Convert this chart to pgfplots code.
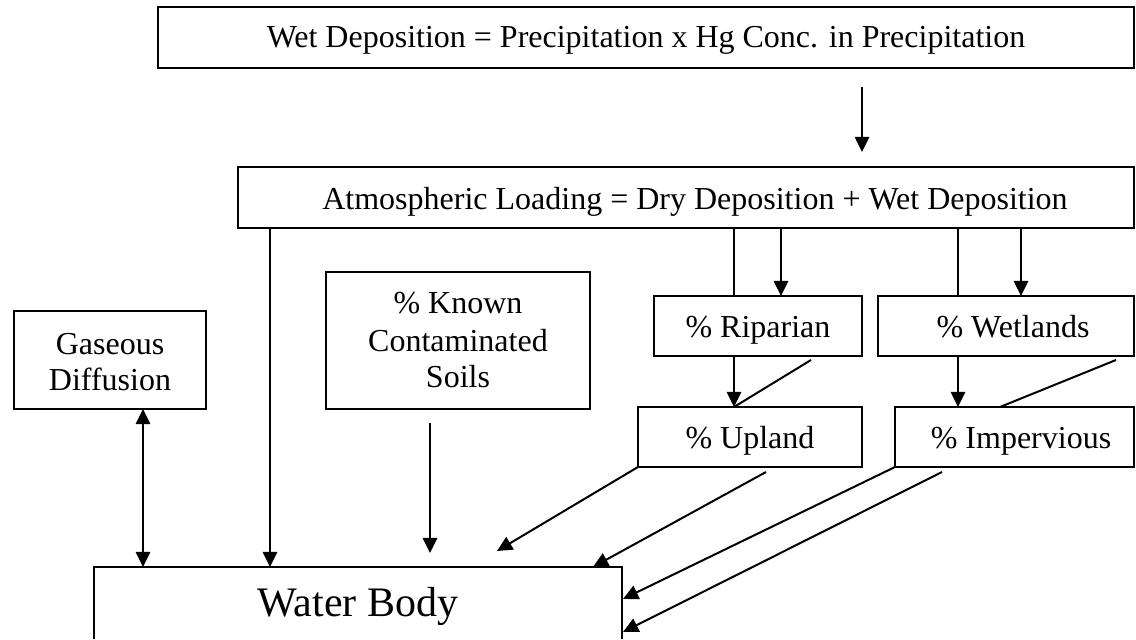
\documentclass[border=0pt]{standalone}
\usepackage{fontspec}
\setmainfont{Liberation Serif}
\usepackage{pgfplots}
\pgfplotsset{compat=1.18}
\usetikzlibrary{arrows.meta}
\tikzset{
  ar/.style={-{Triangle[length=3.8pt,width=3.6pt]}},
  lbl/.style={font=\fontsize{8}{9.25}\selectfont, anchor=base, inner sep=0pt},
}
\begin{document}
\begin{tikzpicture}
\begin{axis}[
  x=0.25pt, y=0.25pt, y dir=reverse,
  xmin=0, xmax=1136, ymin=0, ymax=639,
  hide axis, clip=false, no markers,
  cycle list={{black, solid}},
  every axis plot post/.append style={black, solid, line width=0.5pt, line join=miter},
]
% invisible frame for the bounding box
\addplot[draw=none] coordinates {(0,0) (1136,639)};

% boxes
\addplot coordinates {(158,7) (1134,7) (1134,68) (158,68)} -- cycle;
\addplot coordinates {(238,167) (1134,167) (1134,228) (238,228)} -- cycle;
\addplot coordinates {(14,311) (206,311) (206,409) (14,409)} -- cycle;
\addplot coordinates {(326,272) (590,272) (590,409) (326,409)} -- cycle;
\addplot coordinates {(654,296) (862,296) (862,356) (654,356)} -- cycle;
\addplot coordinates {(878,296) (1134,296) (1134,356) (878,356)} -- cycle;
\addplot coordinates {(638,407) (862,407) (862,467) (638,467)} -- cycle;
\addplot coordinates {(895,407) (1134,407) (1134,467) (895,467)} -- cycle;
\addplot coordinates {(94,639) (94,567) (622,567) (622,639)};

% arrows and lines
\addplot[ar] coordinates {(862,87) (862,152)};
\addplot[ar] coordinates {(270,228) (270,567)};
\addplot coordinates {(734,228) (734,296)};
\addplot[ar] coordinates {(781,228) (781,296)};
\addplot coordinates {(958,228) (958,296)};
\addplot[ar] coordinates {(1021,228) (1021,296)};
\addplot[{Triangle[length=3.8pt,width=3.6pt]}-{Triangle[length=3.8pt,width=3.6pt]}] coordinates {(143,409) (143,567)};
\addplot[ar] coordinates {(430,423) (430,553)};
\addplot[ar] coordinates {(734,356) (734,407)};
\addplot coordinates {(811,360) (734,407)};
\addplot[ar] coordinates {(958,356) (958,407)};
\addplot coordinates {(1116,360) (1000,407)};
\addplot[ar] coordinates {(638,467) (497,551)};
\addplot[ar] coordinates {(766,472) (593,567)};
\addplot[ar] coordinates {(895,467) (623,599)};
\addplot[ar] coordinates {(942,472) (623,632)};

% labels
\node[lbl] at (axis cs:646,48) {Wet Deposition = Precipitation x Hg Conc. in Precipitation};
\node[lbl] at (axis cs:695,210) {Atmospheric Loading = Dry Deposition + Wet Deposition};
\node[lbl] at (axis cs:110,355) {Gaseous};
\node[lbl] at (axis cs:110,391) {Diffusion};
\node[lbl] at (axis cs:458,314) {\% Known};
\node[lbl] at (axis cs:458,352) {Contaminated};
\node[lbl] at (axis cs:458,388) {Soils};
\node[lbl] at (axis cs:758,338) {\% Riparian};
\node[lbl] at (axis cs:1013,338) {\% Wetlands};
\node[lbl] at (axis cs:750,449) {\% Upland};
\node[lbl] at (axis cs:1021,449) {\% Impervious};
\node[lbl, font=\fontsize{10.5}{12}\selectfont] at (axis cs:358,617) {Water Body};
\end{axis}
\end{tikzpicture}
\end{document}
